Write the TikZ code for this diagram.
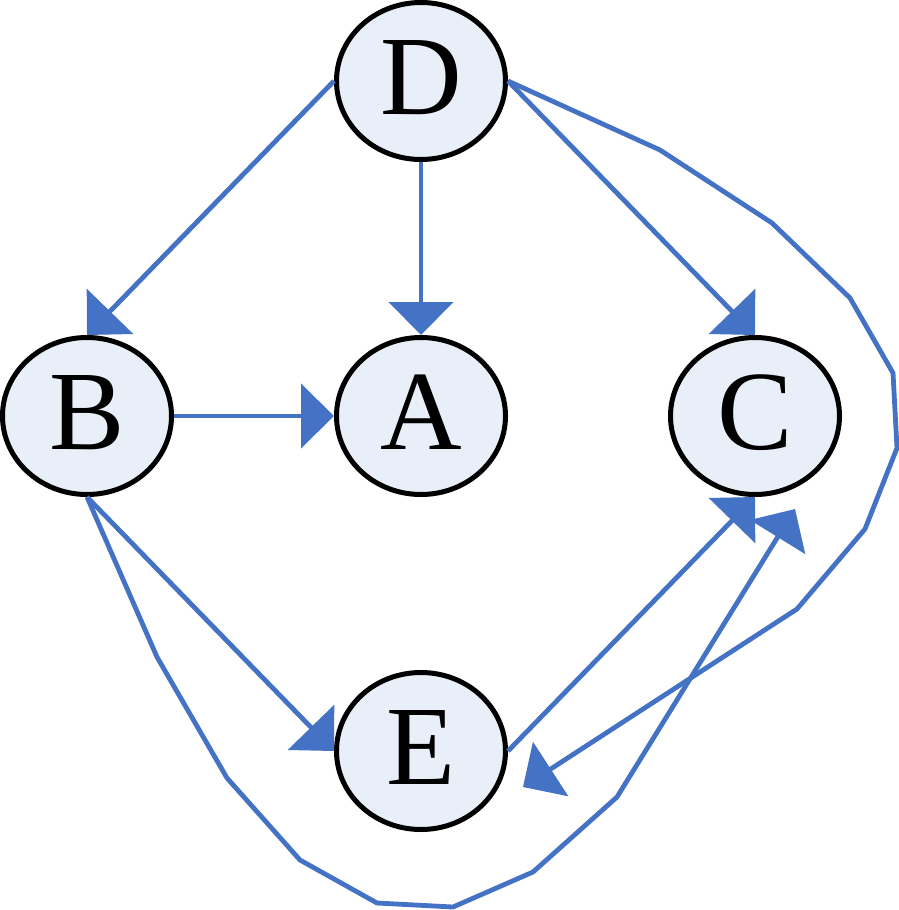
\documentclass[tikz,border=0pt]{standalone}
\usepackage{fontspec}
\setmainfont{Liberation Serif}
\usetikzlibrary{shapes.geometric,arrows.meta}
\definecolor{edgeblue}{RGB}{68,114,196}
\definecolor{nodefill}{RGB}{233,239,248}
\begin{document}
\begin{tikzpicture}[x=1pt,y=-1pt,
  vertex/.style={ellipse,draw=black,line width=5pt,fill=nodefill,
    minimum width=169pt,minimum height=157pt,inner sep=0pt,
    text height=74pt,text depth=7pt,
    font=\fontsize{113}{113}\selectfont},
  edge/.style={draw=edgeblue,line width=4.8pt,
    -{Triangle[length=33pt,width=64pt]}}]
\useasboundingbox (0,0) rectangle (899,910);
\node[vertex] (D) at (421,81) {D};
\node[vertex] (B) at (87,416) {B};
\node[vertex] (A) at (421,416) {A};
\node[vertex] (C) at (755,416) {C};
\node[vertex] (E) at (421,751) {E};
\coordinate (ctip) at (795,509);
\coordinate (etip) at (523,787);
\draw[edge] (D.west) -- (B.north);
\draw[edge] (D.south) -- (A.north);
\draw[edge] (D.east) -- (C.north);
\draw[edge] (B.east) -- (A.west);
\draw[edge] (B.south) -- (E.west);
\draw[edge] (E.east) -- (C.south);
\draw[edge] (D.east) -- (660,150) -- (772,223) -- (850,298) -- (893,373)
  -- (897,448) -- (865,529) -- (797,609) -- (etip);
\draw[edge] (B.south) -- (157,657) -- (227,778) -- (300,860) -- (377,903)
  -- (453,907) -- (533,872) -- (617,797) -- (ctip);
\end{tikzpicture}
\end{document}
